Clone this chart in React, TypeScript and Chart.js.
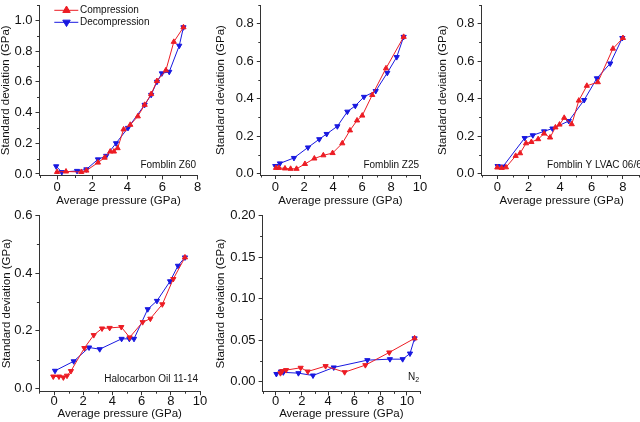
import React, { useEffect, useRef } from 'react';
import { Chart, registerables } from 'chart.js';

Chart.register(...registerables);

const FONT = '"Liberation Sans", Arial, Helvetica, sans-serif';
const RED = 'rgb(236,28,36)';
const BLUE = 'rgb(24,24,224)';
const AXIS = '#333333';
const TEXT = '#111111';

const SERIES_NAMES = ['Compression', 'Decompression'];
const X_TITLE = 'Average pressure (GPa)';
const Y_TITLE = 'Standard deviation (GPa)';

// ---- Fomblin Z60 ----
const z60CompX = [0, 0.51, 1.38, 1.67, 2.33, 2.71, 3.03, 3.24, 3.45, 3.79, 4.17, 4.6, 4.99, 5.36, 5.69, 6.2, 6.65, 7.2];
const z60CompY = [0.013, 0.016, 0.013, 0.022, 0.074, 0.106, 0.146, 0.146, 0.168, 0.29, 0.32, 0.375, 0.45, 0.52, 0.605, 0.675, 0.86, 0.955];
const z60DecX = [-0.05, 0.27, 1.14, 1.67, 2.33, 2.8, 3.36, 4.04, 4.99, 5.36, 5.69, 5.97, 6.39, 6.96, 7.2];
const z60DecY = [0.05, 0.012, 0.02, 0.03, 0.095, 0.118, 0.2, 0.3, 0.45, 0.515, 0.6, 0.655, 0.665, 0.835, 0.955];
const z60XTicks = [0, 2, 4, 6, 8];
const z60YTicks = [0, 0.2, 0.4, 0.6, 0.8, 1.0];

// ---- Fomblin Z25 ----
const z25CompX = [0.05, 0.25, 0.67, 1.06, 1.47, 2.05, 2.7, 3.32, 3.96, 4.63, 5.16, 5.65, 6.01, 6.7, 7.65, 8.87];
const z25CompY = [0.031, 0.031, 0.028, 0.026, 0.026, 0.052, 0.081, 0.098, 0.11, 0.162, 0.231, 0.284, 0.31, 0.42, 0.562, 0.73];
const z25DecX = [0, 0.32, 1.29, 2.26, 3.04, 3.55, 4.29, 4.98, 5.53, 6.13, 6.94, 7.74, 8.39, 8.87];
const z25DecY = [0.041, 0.055, 0.084, 0.14, 0.184, 0.212, 0.253, 0.331, 0.362, 0.41, 0.441, 0.538, 0.622, 0.73];
const z25XTicks = [0, 2, 4, 6, 8, 10];
const z25YTicks = [0, 0.2, 0.4, 0.6, 0.8];

// ---- Fomblin Y LVAC 06/6 ----
const yCompX = [0, 0.28, 0.55, 1.17, 1.45, 1.83, 2.17, 2.6, 2.98, 3.36, 3.7, 3.96, 4.26, 4.74, 5.19, 5.7, 6.4, 7.36, 8.0];
const yCompY = [0.033, 0.031, 0.034, 0.095, 0.109, 0.162, 0.169, 0.184, 0.214, 0.193, 0.247, 0.262, 0.298, 0.264, 0.39, 0.469, 0.488, 0.667, 0.724];
const yDecX = [0.02, 0.36, 1.74, 2.26, 2.98, 3.51, 4.55, 5.53, 6.34, 7.19, 7.96];
const yDecY = [0.041, 0.038, 0.19, 0.205, 0.226, 0.241, 0.281, 0.393, 0.509, 0.588, 0.724];
const yXTicks = [0, 2, 4, 6, 8];
const yYTicks = [0, 0.2, 0.4, 0.6, 0.8];

// ---- Halocarbon Oil 11-14 ----
const haloCompX = [-0.05, 0.34, 0.64, 0.89, 1.16, 2.08, 2.72, 3.29, 3.81, 4.61, 5.18, 6.07, 6.6, 7.42, 8.17, 8.97];
const haloCompY = [0.041, 0.041, 0.038, 0.044, 0.06, 0.14, 0.185, 0.208, 0.21, 0.213, 0.177, 0.23, 0.242, 0.292, 0.38, 0.455];
const haloCompDown = [true, true, true, true, true, true, true, true, true, true, true, true, true, true, true, false];
const haloDecX = [0.07, 1.35, 2.4, 3.13, 4.63, 5.16, 5.48, 6.42, 7.05, 7.95, 8.49, 8.97];
const haloDecY = [0.061, 0.094, 0.142, 0.136, 0.172, 0.172, 0.172, 0.275, 0.304, 0.372, 0.426, 0.455];
const haloXTicks = [0, 2, 4, 6, 8, 10];
const haloYTicks = [0, 0.2, 0.4, 0.6];

// ---- N2 ----
const n2CompX = [0.36, 0.5, 0.79, 1.9, 2.44, 3.8, 5.25, 6.83, 8.65, 10.58];
const n2CompY = [0.01, 0.0125, 0.0137, 0.0165, 0.012, 0.0185, 0.0112, 0.0197, 0.035, 0.052];
const n2CompDown = [true, true, true, true, true, true, true, true, true, false];
const n2DecX = [0.05, 0.4, 0.58, 1.73, 2.84, 4.42, 6.98, 8.7, 9.67, 10.23, 10.58];
const n2DecY = [0.009, 0.012, 0.011, 0.01, 0.0072, 0.0169, 0.0257, 0.0269, 0.0269, 0.0337, 0.052];
const n2XTicks = [0, 2, 4, 6, 8, 10];
const n2YTicks = [0, 0.05, 0.1, 0.15, 0.2];

type PanelDef = {
  compX: number[]; compY: number[]; compDown?: boolean[];
  decX: number[]; decY: number[];
  xTicks: number[]; yTicks: number[]; yDec: number;
  xMin: number; xMax: number; yMin: number; yMax: number;
  cx: number; cy: number; cw: number; ch: number;
  yW: number; xH: number; padT: number; padR: number;
  xTickPad: number; xTitlePadB: number; yTitlePadT: number;
  label: string; labelSub?: string; labelAlign: 'left' | 'right'; labelDx: number; labelDy: number;
  legend?: boolean;
};

const panels: PanelDef[] = [
  {
    compX: z60CompX, compY: z60CompY, decX: z60DecX, decY: z60DecY,
    xTicks: z60XTicks, yTicks: z60YTicks, yDec: 1,
    xMin: -1, xMax: 8, yMin: -0.01, yMax: 1.1,
    cx: 0, cy: 0, cw: 210, ch: 210, yW: 39.5, xH: 34.5, padT: 0, padR: 12.5,
    xTickPad: 0.5, xTitlePadB: 3.5, yTitlePadT: 0,
    label: 'Fomblin Z60', labelAlign: 'right', labelDx: -1.5, labelDy: -10.5, legend: true,
  },
  {
    compX: z25CompX, compY: z25CompY, decX: z25DecX, decY: z25DecY,
    xTicks: z25XTicks, yTicks: z25YTicks, yDec: 1,
    xMin: -1, xMax: 10, yMin: -0.007, yMax: 0.9,
    cx: 215, cy: 0, cw: 217, ch: 210, yW: 45.8, xH: 35, padT: 0, padR: 12,
    xTickPad: 0.5, xTitlePadB: 3.5, yTitlePadT: 0,
    label: 'Fomblin Z25', labelAlign: 'right', labelDx: -1, labelDy: -9.5,
  },
  {
    compX: yCompX, compY: yCompY, decX: yDecX, decY: yDecY,
    xTicks: yXTicks, yTicks: yYTicks, yDec: 1,
    xMin: -1, xMax: 9.2, yMin: -0.007, yMax: 0.9,
    cx: 437, cy: 0, cw: 220, ch: 210, yW: 44.6, xH: 35, padT: 0, padR: 15.2,
    xTickPad: 0.5, xTitlePadB: 3.5, yTitlePadT: 0,
    label: 'Fomblin Y LVAC 06/6', labelAlign: 'left', labelDx: 65.5, labelDy: -9.5,
  },
  {
    compX: haloCompX, compY: haloCompY, compDown: haloCompDown, decX: haloDecX, decY: haloDecY,
    xTicks: haloXTicks, yTicks: haloYTicks, yDec: 1,
    xMin: -1, xMax: 10, yMin: -0.01, yMax: 0.6,
    cx: 0, cy: 208, cw: 212, ch: 214, yW: 39.4, xH: 30.8, padT: 7.7, padR: 12,
    xTickPad: -1.5, xTitlePadB: 2.75, yTitlePadT: 0.7,
    label: 'Halocarbon Oil 11-14', labelAlign: 'right', labelDx: -2, labelDy: -12,
  },
  {
    compX: n2CompX, compY: n2CompY, compDown: n2CompDown, decX: n2DecX, decY: n2DecY,
    xTicks: n2XTicks, yTicks: n2YTicks, yDec: 2,
    xMin: -1, xMax: 11, yMin: -0.012, yMax: 0.2,
    cx: 215, cy: 208, cw: 217, ch: 214, yW: 47.6, xH: 30.6, padT: 7.7, padR: 11.9,
    xTickPad: -1.5, xTitlePadB: 2.75, yTitlePadT: 0,
    label: 'N', labelSub: '2', labelAlign: 'right', labelDx: -1, labelDy: -14.5,
  },
];

function minorTicks(ticks: number[], min: number, max: number): number[] {
  const step = ticks[1] - ticks[0];
  const out: number[] = [];
  for (let v = ticks[0] - step / 2; v <= max + 1e-9; v += step) {
    if (v >= min - 1e-9) out.push(v);
  }
  return out;
}

function triangle(ctx: CanvasRenderingContext2D, x: number, y: number, r: number, down: boolean) {
  const s = down ? -1 : 1;
  ctx.beginPath();
  ctx.moveTo(x, y - s * r);
  ctx.lineTo(x + r * 0.866, y + s * r * 0.5);
  ctx.lineTo(x - r * 0.866, y + s * r * 0.5);
  ctx.closePath();
  ctx.fill();
  ctx.stroke();
}

const decorPlugin = {
  id: 'decor',
  afterDatasetsDraw(chart: any, _args: any, opts: any) {
    const ctx: CanvasRenderingContext2D = chart.ctx;
    const xs = chart.scales.x;
    const ys = chart.scales.y;
    const area = chart.chartArea;
    ctx.save();
    // minor ticks
    ctx.strokeStyle = AXIS;
    ctx.lineWidth = 1;
    for (const v of opts.xMinor as number[]) {
      const px = Math.round(xs.getPixelForValue(v)) + 0.5;
      ctx.beginPath();
      ctx.moveTo(px, area.bottom);
      ctx.lineTo(px, area.bottom + 2.5);
      ctx.stroke();
    }
    for (const v of opts.yMinor as number[]) {
      const py = Math.round(ys.getPixelForValue(v)) + 0.5;
      ctx.beginPath();
      ctx.moveTo(area.left, py);
      ctx.lineTo(area.left - 2.5, py);
      ctx.stroke();
    }
    // panel label
    ctx.fillStyle = TEXT;
    ctx.textBaseline = 'middle';
    ctx.font = `10px ${FONT}`;
    const ly = area.bottom + opts.labelDy;
    if (opts.labelAlign === 'right') {
      const rx = area.right + opts.labelDx;
      if (opts.labelSub) {
        ctx.font = `7px ${FONT}`;
        const sw = ctx.measureText(opts.labelSub).width;
        ctx.textAlign = 'right';
        ctx.fillText(opts.labelSub, rx, ly + 3.5);
        ctx.font = `10px ${FONT}`;
        ctx.fillText(opts.label, rx - sw, ly);
      } else {
        ctx.textAlign = 'right';
        ctx.fillText(opts.label, rx, ly);
      }
    } else {
      ctx.textAlign = 'left';
      ctx.fillText(opts.label, area.left + opts.labelDx, ly);
    }
    // legend
    if (opts.legend) {
      const rows = [
        { text: chart.data.datasets[0].label, color: RED, down: false, dy: 5.3 },
        { text: chart.data.datasets[1].label, color: BLUE, down: true, dy: 17.3 },
      ];
      for (const r of rows) {
        const y = area.top + r.dy;
        ctx.strokeStyle = r.color;
        ctx.fillStyle = r.color;
        ctx.lineWidth = 1;
        ctx.beginPath();
        ctx.moveTo(area.left + 14.8, y);
        ctx.lineTo(area.left + 38.8, y);
        ctx.stroke();
        triangle(ctx, area.left + 27, y, 4.3, r.down);
        ctx.fillStyle = TEXT;
        ctx.textAlign = 'left';
        ctx.font = `10px ${FONT}`;
        ctx.fillText(r.text, area.left + 40.5, y);
      }
    }
    ctx.restore();
  },
};

function buildConfig(d: PanelDef): any {
  const pts = (xs: number[], ys: number[]) => xs.map((x, i) => ({ x, y: ys[i] }));
  const tickFont = { family: FONT, size: 13 };
  const titleFont = { family: FONT, size: 11.5, lineHeight: 1 };
  return {
    type: 'scatter',
    data: {
      datasets: [
        {
          label: SERIES_NAMES[0],
          data: pts(d.compX, d.compY),
          showLine: true,
          borderColor: RED,
          backgroundColor: RED,
          borderWidth: 1,
          pointStyle: 'triangle',
          pointRotation: d.compDown ? d.compDown.map((b) => (b ? 180 : 0)) : 0,
          pointRadius: 3,
          pointBorderWidth: 1,
          pointBorderColor: RED,
          pointBackgroundColor: RED,
        },
        {
          label: SERIES_NAMES[1],
          data: pts(d.decX, d.decY),
          showLine: true,
          borderColor: BLUE,
          backgroundColor: BLUE,
          borderWidth: 1,
          pointStyle: 'triangle',
          pointRotation: 180,
          pointRadius: 3,
          pointBorderWidth: 1,
          pointBorderColor: BLUE,
          pointBackgroundColor: BLUE,
        },
      ],
    },
    options: {
      responsive: false,
      maintainAspectRatio: false,
      animation: false,
      events: [],
      layout: { padding: { left: 0, top: d.padT, right: d.padR, bottom: 0 } },
      plugins: {
        legend: { display: false },
        tooltip: { enabled: false },
        decor: {
          xMinor: minorTicks(d.xTicks, d.xMin, d.xMax),
          yMinor: minorTicks(d.yTicks, d.yMin, d.yMax),
          label: d.label,
          labelSub: d.labelSub,
          labelAlign: d.labelAlign,
          labelDx: d.labelDx,
          labelDy: d.labelDy,
          legend: !!d.legend,
        },
      },
      scales: {
        x: {
          type: 'linear',
          position: 'bottom',
          min: d.xMin,
          max: d.xMax,
          afterBuildTicks: (a: any) => {
            a.ticks = d.xTicks.map((v) => ({ value: v }));
          },
          afterFit: (s: any) => {
            s.height = d.xH;
            s.paddingLeft = 0;
            s.paddingRight = 0;
            s.paddingTop = 0;
            s.paddingBottom = 0;
          },
          grid: { display: true, drawOnChartArea: false, drawTicks: true, tickLength: 4, color: AXIS, tickColor: AXIS, lineWidth: 1 },
          border: { display: true, color: AXIS, width: 1 },
          ticks: {
            color: TEXT,
            font: tickFont,
            padding: d.xTickPad,
            maxRotation: 0,
            autoSkip: false,
            callback: (v: number) => String(v),
          },
          title: {
            display: true,
            text: X_TITLE,
            color: TEXT,
            font: titleFont,
            padding: { top: 0, bottom: d.xTitlePadB },
          },
        },
        y: {
          type: 'linear',
          position: 'left',
          min: d.yMin,
          max: d.yMax,
          afterBuildTicks: (a: any) => {
            a.ticks = d.yTicks.map((v) => ({ value: v }));
          },
          afterFit: (s: any) => {
            s.width = d.yW;
            s.paddingLeft = 0;
            s.paddingRight = 0;
            s.paddingTop = 0;
            s.paddingBottom = 0;
          },
          grid: { display: true, drawOnChartArea: false, drawTicks: true, tickLength: 4, color: AXIS, tickColor: AXIS, lineWidth: 1 },
          border: { display: true, color: AXIS, width: 1 },
          ticks: {
            color: TEXT,
            font: tickFont,
            padding: 3,
            autoSkip: false,
            callback: (v: number) => Number(v).toFixed(d.yDec),
          },
          title: {
            display: true,
            text: Y_TITLE,
            color: TEXT,
            font: titleFont,
            padding: { top: d.yTitlePadT, bottom: 0 },
          },
        },
      },
    },
    plugins: [decorPlugin],
  };
}

function Panel({ def }: { def: PanelDef }) {
  const ref = useRef<HTMLCanvasElement | null>(null);
  useEffect(() => {
    if (!ref.current) return;
    const chart = new Chart(ref.current, buildConfig(def));
    return () => chart.destroy();
  }, [def]);
  return (
    <canvas
      ref={ref}
      width={def.cw}
      height={def.ch}
      style={{ position: 'absolute', left: def.cx, top: def.cy, width: def.cw, height: def.ch }}
    />
  );
}

export default function App() {
  return (
    <div
      style={{
        position: 'absolute',
        left: 0,
        top: 0,
        width: 640,
        height: 422,
        overflow: 'hidden',
        background: '#ffffff',
      }}
    >
      {panels.map((p, i) => (
        <Panel key={i} def={p} />
      ))}
    </div>
  );
}
